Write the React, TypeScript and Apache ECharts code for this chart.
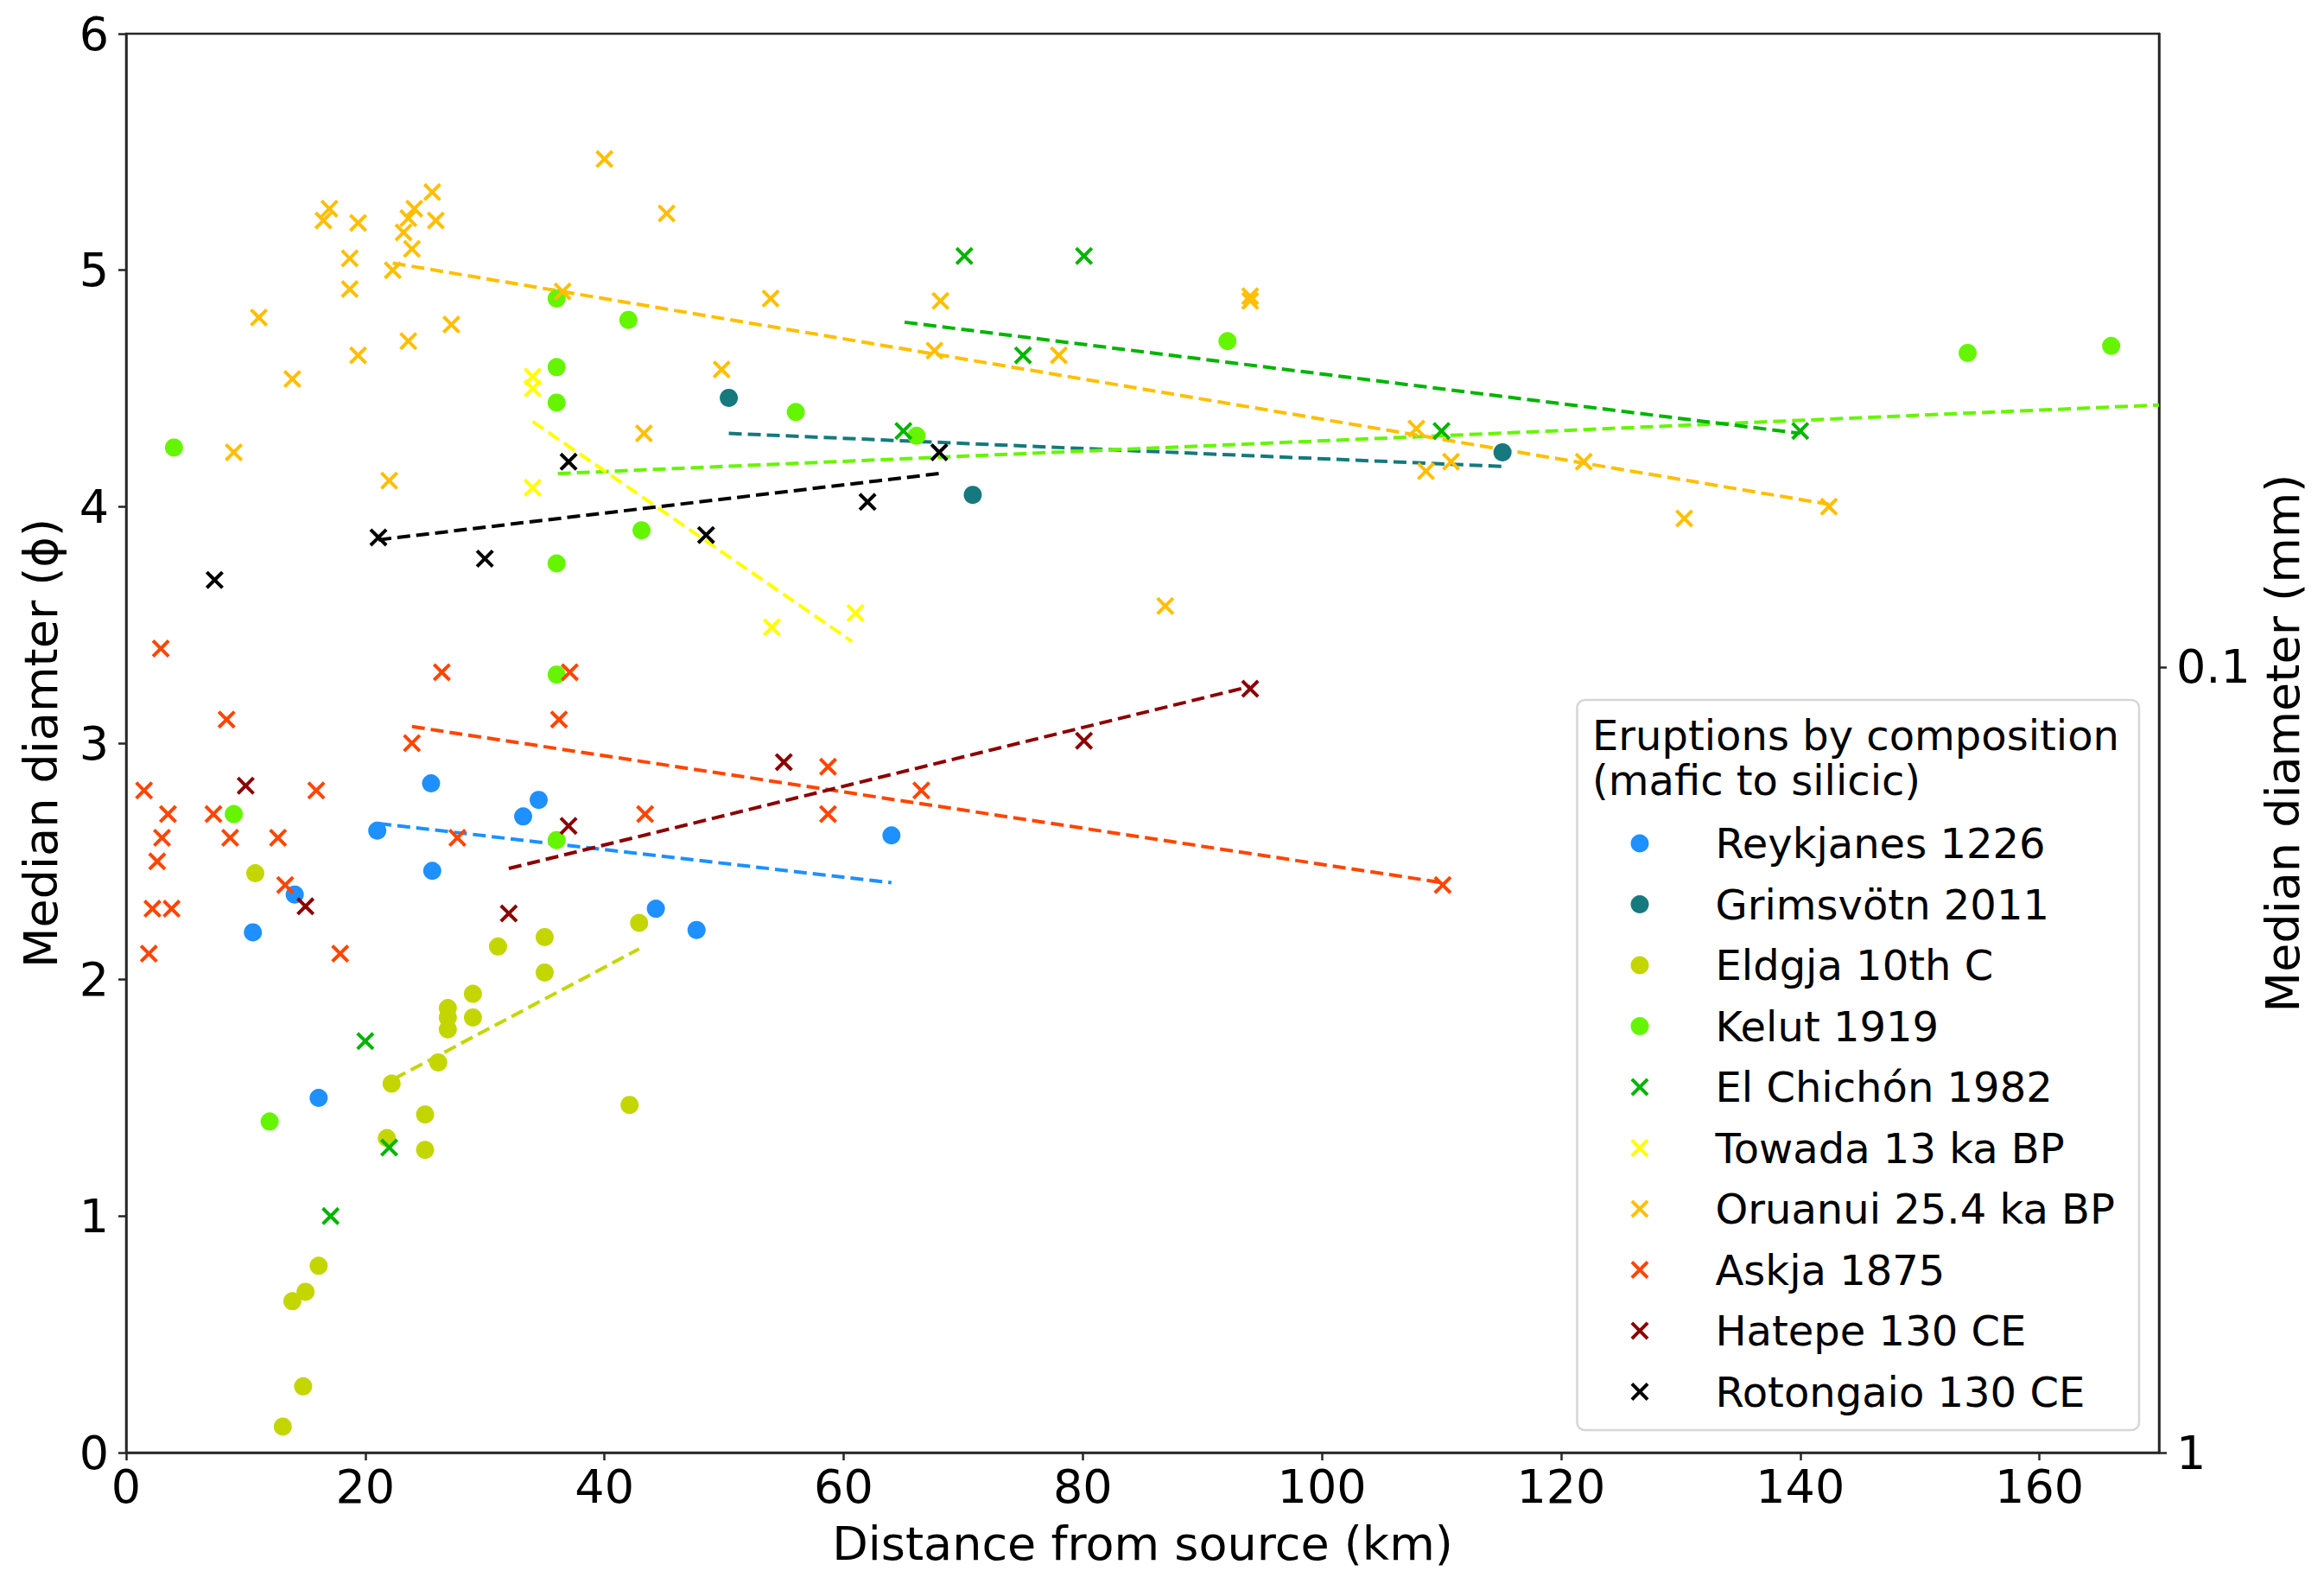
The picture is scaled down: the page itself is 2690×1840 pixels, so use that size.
import React, { useEffect, useRef } from 'react';
import * as echarts from 'echarts';

// distance from source (km), median diameter (phi)
const reykjanes: number[][] = [
  [21.0, 2.63], [25.5, 2.83], [25.6, 2.46], [33.2, 2.69], [34.5, 2.76], [14.1, 2.36],
  [10.6, 2.2], [16.1, 1.5], [44.3, 2.3], [47.7, 2.21], [64.0, 2.61],
];
const grimsvotn: number[][] = [[50.4, 4.46], [70.8, 4.05], [115.1, 4.23]];
const eldgja: number[][] = [
  [10.8, 2.45], [22.2, 1.56], [21.8, 1.33], [25.0, 1.43], [25.0, 1.28], [26.1, 1.65],
  [26.9, 1.88], [26.9, 1.84], [26.9, 1.79], [29.0, 1.94], [29.0, 1.84], [31.1, 2.14],
  [35.0, 2.18], [35.0, 2.03], [42.9, 2.24], [42.1, 1.47], [16.1, 0.79], [15.0, 0.68],
  [13.9, 0.64], [14.8, 0.28], [13.1, 0.11],
];
const kelut: number[][] = [
  [4.0, 4.25], [9.0, 2.7], [12.0, 1.4], [36.0, 4.88], [42.0, 4.79], [36.0, 4.59],
  [36.0, 4.44], [56.0, 4.4], [66.1, 4.3], [43.1, 3.9], [36.0, 3.76], [36.0, 3.29],
  [36.0, 2.59], [92.1, 4.7], [154.0, 4.65], [166.0, 4.68],
];
const elChichon: number[][] = [
  [70.1, 5.06], [80.1, 5.06], [75.0, 4.64], [65.0, 4.32], [110.0, 4.32], [140.0, 4.32],
  [20.0, 1.74], [22.0, 1.29], [17.1, 1.0],
];
const towada: number[][] = [[34.0, 4.55], [34.0, 4.5], [34.0, 4.08], [54.0, 3.49], [61.0, 3.55]];
const oruanui: number[][] = [
  [40.0, 5.47], [45.2, 5.24], [17.0, 5.26], [16.5, 5.21], [19.4, 5.2], [25.6, 5.33],
  [24.1, 5.26], [23.6, 5.22], [23.2, 5.16], [25.9, 5.21], [23.9, 5.09], [18.7, 5.05],
  [22.3, 5.0], [18.7, 4.92], [11.1, 4.8], [27.2, 4.77], [23.6, 4.7], [19.4, 4.64],
  [13.9, 4.54], [36.5, 4.91], [53.9, 4.88], [49.8, 4.58], [43.3, 4.31], [9.0, 4.23],
  [22.0, 4.11], [68.1, 4.87], [94.0, 4.89], [94.0, 4.87], [67.6, 4.66], [78.0, 4.64],
  [86.9, 3.58], [107.9, 4.33], [108.7, 4.15], [110.8, 4.19], [121.9, 4.19], [130.3, 3.95],
  [142.4, 4.0],
];
const askja: number[][] = [
  [2.9, 3.4], [26.4, 3.3], [37.1, 3.3], [8.4, 3.1], [36.2, 3.1], [23.9, 3.0], [1.5, 2.8],
  [15.9, 2.8], [3.5, 2.7], [7.3, 2.7], [3.0, 2.6], [8.7, 2.6], [12.7, 2.6], [27.7, 2.6],
  [2.6, 2.5], [43.4, 2.7], [13.3, 2.4], [2.2, 2.3], [3.8, 2.3], [1.9, 2.11], [17.9, 2.11],
  [58.7, 2.9], [58.7, 2.7], [66.5, 2.8], [110.1, 2.4],
];
const hatepe: number[][] = [
  [10.0, 2.82], [15.0, 2.31], [32.0, 2.28], [37.0, 2.65], [55.0, 2.92], [80.1, 3.01], [94.0, 3.23],
];
const rotongaio: number[][] = [
  [7.4, 3.69], [21.1, 3.87], [30.0, 3.78], [37.0, 4.19], [48.5, 3.88], [62.0, 4.02], [68.0, 4.23],
];

// dashed trend lines (start, end)
const fitReykjanes = [[21.1, 2.66], [64.0, 2.41]];
const fitGrimsvotn = [[50.4, 4.31], [115.1, 4.17]];
const fitEldgja = [[22.4, 1.58], [42.9, 2.13]];
const fitKelut = [[36.1, 4.14], [170, 4.43]];
const fitElChichon = [[65.1, 4.78], [140, 4.31]];
const fitTowada = [[34.0, 4.36], [60.7, 3.43]];
const fitOruanui = [[22.3, 5.03], [142.4, 4.01]];
const fitAskja = [[23.9, 3.07], [110.1, 2.41]];
const fitHatepe = [[32.0, 2.47], [94.0, 3.24]];
const fitRotongaio = [[21.1, 3.86], [68.0, 4.14]];

const xTicks = [0, 20, 40, 60, 80, 100, 120, 140, 160];
const mmTicks = [1, 0.1];

const FONT = 'DejaVu Sans';
const XMARK = 'path://M0,1.35L1.35,0L5,3.65L8.65,0L10,1.35L6.35,5L10,8.65L8.65,10L5,6.35L1.35,10L0,8.65L3.65,5Z';

const groups = [
  { name: 'Reykjanes 1226', data: reykjanes, fit: fitReykjanes, color: '#1e90ff', symbol: 'circle' },
  { name: 'Grimsvötn 2011', data: grimsvotn, fit: fitGrimsvotn, color: '#15797d', symbol: 'circle' },
  { name: 'Eldgja 10th C', data: eldgja, fit: fitEldgja, color: '#c3d600', symbol: 'circle' },
  { name: 'Kelut 1919', data: kelut, fit: fitKelut, color: '#66f500', symbol: 'circle' },
  { name: 'El Chichón 1982', data: elChichon, fit: fitElChichon, color: '#00b400', symbol: XMARK },
  { name: 'Towada 13 ka BP', data: towada, fit: fitTowada, color: '#ffff00', symbol: XMARK },
  { name: 'Oruanui 25.4 ka BP', data: oruanui, fit: fitOruanui, color: '#ffbf00', symbol: XMARK },
  { name: 'Askja 1875', data: askja, fit: fitAskja, color: '#ff4500', symbol: XMARK },
  { name: 'Hatepe 130 CE', data: hatepe, fit: fitHatepe, color: '#8b0000', symbol: XMARK },
  { name: 'Rotongaio 130 CE', data: rotongaio, fit: fitRotongaio, color: '#000000', symbol: XMARK },
];

const App: React.FC = () => {
  const chartRef = useRef<HTMLDivElement>(null);

  useEffect(() => {
    if (!chartRef.current) return;
    const chart = echarts.init(chartRef.current, null, { renderer: 'svg' });

    const axisLine = { show: true, lineStyle: { color: '#262626', width: 2.5 } };
    const axisTick = { show: true, length: 9, lineStyle: { color: '#262626', width: 2.5 } };
    const label = { color: '#000', fontSize: 54, fontFamily: FONT };

    const scatterSeries = groups.map((g) => ({
      name: g.name,
      type: 'scatter',
      data: g.data,
      symbol: g.symbol,
      symbolSize: 21,
      itemStyle: { color: g.color, opacity: 1 },
      z: 3,
    }));
    const fitSeries = groups.map((g) => ({
      name: g.name + ' fit',
      type: 'line',
      data: g.fit,
      symbol: 'none',
      silent: true,
      lineStyle: { color: g.color, width: 4, type: [15, 7] },
      z: 2,
    }));

    const option: any = {
      animation: false,
      backgroundColor: '#fff',
      textStyle: { fontFamily: FONT },
      grid: {
        left: 146,
        right: 191,
        top: 39,
        bottom: 159,
        show: true,
        borderColor: '#262626',
        borderWidth: 2.5,
        backgroundColor: 'transparent',
      },
      xAxis: {
        type: 'value',
        min: 0,
        max: 170,
        axisLine,
        axisTick: { ...axisTick, customValues: xTicks },
        axisLabel: { ...label, margin: 12, customValues: xTicks },
        splitLine: { show: false },
        name: 'Distance from source (km)',
        nameLocation: 'middle',
        nameGap: 78,
        nameTextStyle: label,
      },
      yAxis: [
        {
          type: 'value',
          min: 0,
          max: 6,
          interval: 1,
          position: 'left',
          axisLine,
          axisTick,
          axisLabel: { ...label, margin: 20 },
          splitLine: { show: false },
          name: 'Median diamter (ϕ)',
          nameLocation: 'middle',
          nameRotate: 90,
          nameGap: 72,
          nameTextStyle: label,
        },
        {
          type: 'value',
          min: 0,
          max: 6,
          position: 'right',
          axisLine,
          axisTick: { ...axisTick, customValues: mmTicks.map((d) => -Math.log2(d)) },
          axisLabel: {
            ...label,
            margin: 20,
            customValues: mmTicks.map((d) => -Math.log2(d)),
            formatter: (v: number) => String(Math.round(Math.pow(2, -v) * 1000) / 1000),
          },
          splitLine: { show: false },
          name: 'Median diameter (mm)',
          nameLocation: 'middle',
          nameRotate: 90,
          nameGap: 108,
          nameTextStyle: label,
        },
      ],
      legend: {
        data: groups.map((g) => g.name),
        orient: 'vertical',
        left: 1887.5,
        top: 952,
        padding: 0,
        itemWidth: 165,
        itemHeight: 21,
        itemGap: 22.5,
        symbolKeepAspect: true,
        textStyle: { color: '#000', fontSize: 48, lineHeight: 48, fontFamily: FONT },
        z: 6,
      },
      graphic: [
        {
          type: 'rect',
          z: 5,
          shape: { x: 1825.5, y: 810, width: 650.5, height: 845, r: 9 },
          style: { fill: 'rgba(255,255,255,0.8)', stroke: '#d6d6d6', lineWidth: 2.5 },
        },
        {
          type: 'text',
          z: 6,
          x: 1843,
          y: 850.5,
          style: {
            text: 'Eruptions by composition',
            fontSize: 48,
            fontFamily: FONT,
            fill: '#000',
            verticalAlign: 'middle',
          },
        },
        {
          type: 'text',
          z: 6,
          x: 1843,
          y: 903,
          style: {
            text: '(mafic to silicic)',
            fontSize: 48,
            fontFamily: FONT,
            fill: '#000',
            verticalAlign: 'middle',
          },
        },
      ],
      series: [...fitSeries, ...scatterSeries],
    };

    chart.setOption(option);

    return () => {
      chart.dispose();
    };
  }, []);

  return (
    <div
      ref={chartRef}
      style={{ position: 'fixed', left: 0, top: 0, width: '2690px', height: '1840px' }}
    />
  );
};

export default App;
